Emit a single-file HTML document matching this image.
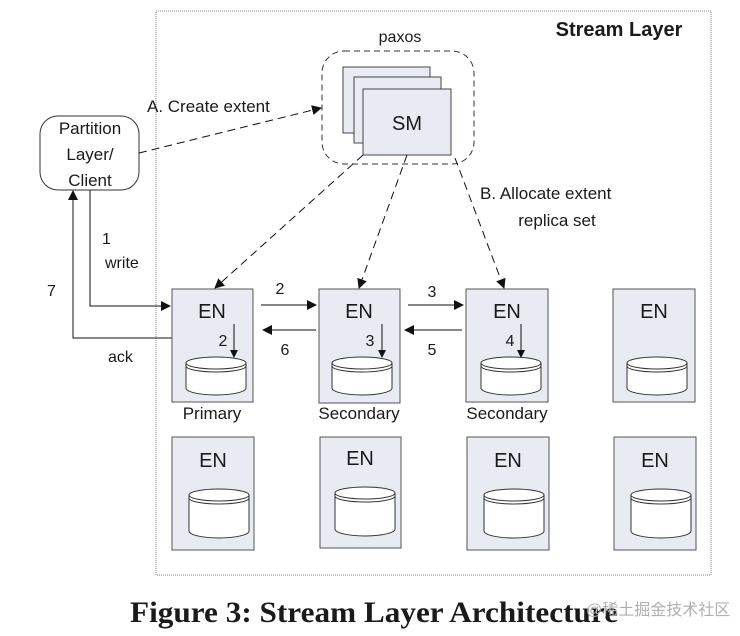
<!DOCTYPE html>
<html><head><meta charset="utf-8"><style>
html,body{margin:0;padding:0;background:#fff;}
svg{display:block;}
text{font-family:"Liberation Sans","DejaVu Sans",sans-serif;fill:#1a1a1a;}
</style></head><body>
<svg width="740" height="636" viewBox="0 0 740 636" xmlns="http://www.w3.org/2000/svg">
<defs>
<marker id="ah" markerWidth="10" markerHeight="10" refX="9" refY="5" orient="auto" markerUnits="userSpaceOnUse">
<path d="M0,0 L10,5 L0,10 z" fill="#111"/></marker>
<marker id="ahs" markerWidth="8" markerHeight="8" refX="7" refY="4" orient="auto" markerUnits="userSpaceOnUse">
<path d="M0,0 L8,4 L0,8 z" fill="#111"/></marker>
<g id="cyl">
<path d="M0,0 v25 a30,7 0 0 0 60,0 v-25" fill="#fff" stroke="#333" stroke-width="1"/>
<ellipse cx="30" cy="0" rx="30" ry="6" fill="#fff" stroke="#333" stroke-width="1"/>
<path d="M0,3 a30,6 0 0 0 60,0" fill="none" stroke="#333" stroke-width="1"/>
</g>
<g id="cyl2">
<path d="M0,0 v36 a30,7 0 0 0 60,0 v-36" fill="#fff" stroke="#333" stroke-width="1"/>
<ellipse cx="30" cy="0" rx="30" ry="6" fill="#fff" stroke="#333" stroke-width="1"/>
<path d="M0,3 a30,6 0 0 0 60,0" fill="none" stroke="#333" stroke-width="1"/>
</g>
</defs>
<rect x="156" y="11" width="555" height="564" fill="none" stroke="#888" stroke-width="1" stroke-dasharray="1,1"/>
<text x="619" y="36" font-size="20" font-weight="bold" text-anchor="middle">Stream Layer</text>
<text x="400" y="42" font-size="16" text-anchor="middle">paxos</text>
<rect x="322" y="51" width="152" height="113" rx="22" fill="none" stroke="#333" stroke-dasharray="6,4"/>
<rect x="343" y="67" width="87" height="66" fill="#e8ebf2" stroke="#444"/>
<rect x="354" y="77" width="87" height="66" fill="#e8ebf2" stroke="#444"/>
<rect x="363" y="89" width="88" height="66" fill="#e8ebf2" stroke="#444"/>
<text x="407" y="130" font-size="20" text-anchor="middle">SM</text>
<rect x="40" y="116" width="99" height="74" rx="18" fill="#fff" stroke="#333"/>
<text x="90" y="134" font-size="17" text-anchor="middle">Partition</text>
<text x="90" y="160" font-size="17" text-anchor="middle">Layer/</text>
<text x="90" y="186" font-size="17" text-anchor="middle">Client</text>
<text x="147" y="112" font-size="17">A. Create extent</text>
<line x1="139" y1="153" x2="321" y2="108" stroke="#111" stroke-dasharray="8,5" marker-end="url(#ah)"/>
<text x="480" y="199" font-size="17">B. Allocate extent</text>
<text x="557" y="226" font-size="17" text-anchor="middle">replica set</text>
<line x1="363" y1="155" x2="215" y2="288" stroke="#111" stroke-dasharray="8,5" marker-end="url(#ah)"/>
<line x1="407" y1="155" x2="359" y2="288" stroke="#111" stroke-dasharray="8,5" marker-end="url(#ah)"/>
<line x1="455" y1="158" x2="504" y2="288" stroke="#111" stroke-dasharray="8,5" marker-end="url(#ah)"/>
<polyline points="90,190 90,306 170,306" fill="none" stroke="#111" marker-end="url(#ah)"/>
<polyline points="172,338 73,338 73,191" fill="none" stroke="#111" marker-end="url(#ah)"/>
<text x="102" y="244" font-size="16">1</text>
<text x="105" y="268" font-size="16">write</text>
<text x="47" y="296" font-size="16">7</text>
<text x="108" y="362" font-size="16">ack</text>
<rect x="172" y="289" width="81" height="113" fill="#e8ebf2" stroke="#555"/>
<text x="212" y="318" font-size="20" text-anchor="middle">EN</text>
<rect x="319" y="289" width="81" height="114" fill="#e8ebf2" stroke="#555"/>
<text x="359" y="318" font-size="20" text-anchor="middle">EN</text>
<rect x="466" y="289" width="82" height="113" fill="#e8ebf2" stroke="#555"/>
<text x="507" y="318" font-size="20" text-anchor="middle">EN</text>
<rect x="613" y="289" width="82" height="113" fill="#e8ebf2" stroke="#555"/>
<text x="654" y="318" font-size="20" text-anchor="middle">EN</text>
<use href="#cyl" x="186" y="363"/>
<use href="#cyl" x="332" y="363"/>
<use href="#cyl" x="481" y="363"/>
<use href="#cyl" x="627" y="363"/>
<line x1="234" y1="324" x2="234" y2="357" stroke="#111" marker-end="url(#ahs)"/>
<line x1="382" y1="324" x2="382" y2="357" stroke="#111" marker-end="url(#ahs)"/>
<line x1="521" y1="324" x2="521" y2="357" stroke="#111" marker-end="url(#ahs)"/>
<text x="223" y="346" font-size="16" text-anchor="middle">2</text>
<text x="370" y="346" font-size="16" text-anchor="middle">3</text>
<text x="510" y="346" font-size="16" text-anchor="middle">4</text>
<line x1="261" y1="305" x2="316" y2="305" stroke="#111" marker-end="url(#ah)"/>
<line x1="316" y1="330" x2="263" y2="330" stroke="#111" marker-end="url(#ah)"/>
<line x1="408" y1="305" x2="463" y2="305" stroke="#111" marker-end="url(#ah)"/>
<line x1="462" y1="330" x2="405" y2="330" stroke="#111" marker-end="url(#ah)"/>
<text x="280" y="294" font-size="16" text-anchor="middle">2</text>
<text x="285" y="355" font-size="16" text-anchor="middle">6</text>
<text x="432" y="297" font-size="16" text-anchor="middle">3</text>
<text x="432" y="355" font-size="16" text-anchor="middle">5</text>
<text x="212" y="419" font-size="17" text-anchor="middle">Primary</text>
<text x="359" y="419" font-size="17" text-anchor="middle">Secondary</text>
<text x="507" y="419" font-size="17" text-anchor="middle">Secondary</text>
<rect x="172" y="437" width="82" height="113" fill="#e8ebf2" stroke="#555"/>
<text x="213" y="467" font-size="20" text-anchor="middle">EN</text>
<rect x="320" y="437" width="81" height="111" fill="#e8ebf2" stroke="#555"/>
<text x="360" y="465" font-size="20" text-anchor="middle">EN</text>
<rect x="467" y="437" width="82" height="113" fill="#e8ebf2" stroke="#555"/>
<text x="508" y="467" font-size="20" text-anchor="middle">EN</text>
<rect x="614" y="437" width="82" height="113" fill="#e8ebf2" stroke="#555"/>
<text x="655" y="467" font-size="20" text-anchor="middle">EN</text>
<use href="#cyl2" x="189" y="495"/>
<use href="#cyl2" x="335" y="493"/>
<use href="#cyl2" x="484" y="495"/>
<use href="#cyl2" x="631" y="495"/>
<text x="130" y="622" font-size="30" font-weight="bold" textLength="488" lengthAdjust="spacingAndGlyphs" style="font-family:'Liberation Serif',serif">Figure 3: Stream Layer Architecture</text>
<text x="586" y="615" font-size="16" style="font-family:'Liberation Sans','Noto Sans CJK SC',sans-serif;fill:#b0b0b0">@稀土掘金技术社区</text>
</svg>
</body></html>
